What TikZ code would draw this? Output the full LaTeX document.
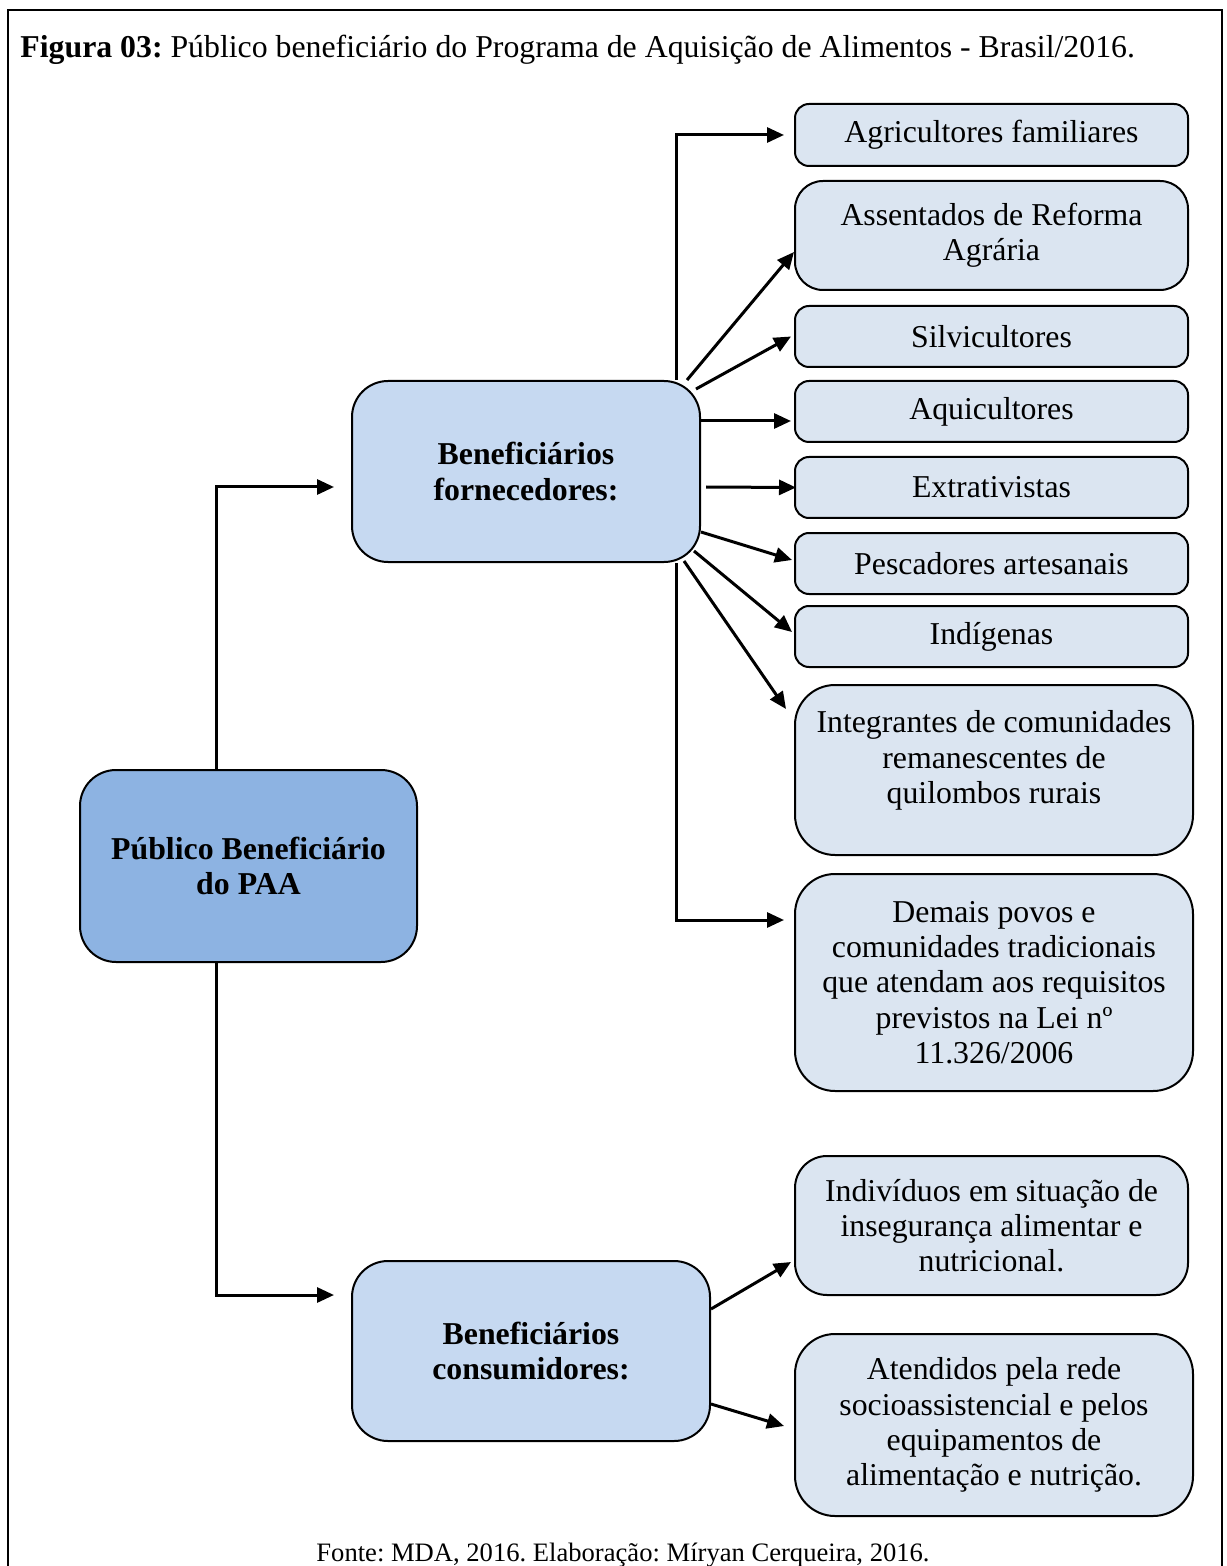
\documentclass[tikz,border=0pt]{standalone}
\usepackage{fontspec}
\setmainfont{Liberation Serif}
\usetikzlibrary{arrows.meta,calc}
\definecolor{rootblue}{RGB}{141,179,226}
\definecolor{midblue}{RGB}{198,217,241}
\definecolor{leafblue}{RGB}{219,229,241}
\frenchspacing

\begin{document}
\begin{tikzpicture}[x=0.5pt,y=-0.5pt,
  >={Triangle[length=8.5pt,width=7.5pt]},
  txt/.style={font=\fontsize{15.9}{17.6}\selectfont},
  main node/.style={txt,draw,line width=1pt,rounded corners=18pt,align=center,inner sep=0pt},
  leaf node/.style={txt,draw,line width=1pt,fill=leafblue,rounded corners=7pt,align=center,inner sep=0pt,minimum width=196.5pt},
  big leaf/.style={leaf node,rounded corners=20pt,minimum width=199pt},
  arr/.style={->,line width=1.5pt}]
\useasboundingbox (0,0) rectangle (1226,1566);

% frame and caption
\draw[line width=1.2pt] (8,1566) -- (8,10) -- (1222,10) -- (1222,1566);
\node[txt,anchor=base west,inner sep=0pt] (title) at (20,58)
  {\textbf{Figura 03:} Público beneficiário do Programa de Aquisição de Alimentos - Brasil/2016.};
\node[font=\fontsize{13.3}{15}\selectfont,anchor=base,inner sep=0pt] (fonte) at (623,1561)
  {Fonte: MDA, 2016. Elaboração: Míryan Cerqueira, 2016.};

% main boxes
\node[main node,fill=rootblue,minimum width=168.5pt,minimum height=96pt] (root) at (248.5,866)
  {\textbf{Público Beneficiário}\\\textbf{do PAA}};
\node[main node,fill=midblue,minimum width=174pt,minimum height=90.5pt] (forn) at (526,471.5)
  {\textbf{Beneficiários}\\\textbf{fornecedores:}};
\node[main node,fill=midblue,minimum width=179pt,minimum height=90pt] (cons) at (531,1351)
  {\textbf{Beneficiários}\\\textbf{consumidores:}};

% suppliers
\node[leaf node,minimum height=31pt] (agric) at (991.5,135) {Agricultores familiares};
\node[leaf node,rounded corners=14pt,minimum height=54.5pt] (assent) at (991.5,235.5) {Assentados de Reforma\\Agrária};
\node[leaf node,minimum height=30.5pt] (silvi) at (991.5,336.5) {Silvicultores};
\node[leaf node,minimum height=30.5pt] (aqui) at (991.5,411.5) {Aquicultores};
\node[leaf node,minimum height=30.5pt] (extra) at (991.5,487.5) {Extrativistas};
\node[leaf node,minimum height=30.5pt] (pesca) at (991.5,563.5) {Pescadores artesanais};
\node[leaf node,minimum height=30.5pt] (indig) at (991.5,636.5) {Indígenas};
\node[big leaf,minimum height=85pt] (integr) at (994,770)
  {Integrantes de comunidades\\remanescentes de\\quilombos rurais\\[-4.6pt]};
\node[big leaf,minimum height=108.5pt] (demais) at (994,982.5)
  {Demais povos e\\comunidades tradicionais\\que atendam aos requisitos\\previstos na Lei nº\\11.326/2006};

% consumers
\node[leaf node,rounded corners=16pt,minimum height=69.5pt] (indiv) at (991.5,1225.5)
  {Indivíduos em situação de\\insegurança alimentar e\\nutricional.};
\node[big leaf,minimum height=91pt] (atend) at (994,1425)
  {Atendidos pela rede\\socioassistencial e pelos\\equipamentos de\\alimentação e nutrição.};

% root links
\draw[arr] ($(root.north)+(-32.5,0)$) |- ($(forn.west)+(-17,15.5)$);
\draw[arr] ($(root.south)+(-32.5,0)$) |- ($(cons.west)+(-17,-56)$);

% supplier links
\draw[arr] ($(forn.north east)+(-25,0)$) |- ($(agric.west)+(-10,0)$);
\draw[arr] ($(forn.north east)+(-14,0)$) -- ($(assent.west)+(0,16.5)$);
\draw[arr] ($(forn.north east)+(-5,9)$) -- ($(silvi.west)+(-3,0)$);
\draw[arr] ($(forn.east)+(0,-50.5)$) -- ($(aqui.west)+(-3,9.5)$);
\draw[arr] ($(forn.east)+(5,15.5)$) -- ($(extra.west)+(2,0)$);
\draw[arr] ($(forn.east)+(0,60.5)$) -- ($(pesca.west)+(-2,-3.5)$);
\draw[arr] ($(forn.south east)+(-7,-12)$) -- ($(indig.west)+(-2,-4.5)$);
\draw[arr] ($(forn.south east)+(-17,-2)$) -- ($(integr.north west)+(-8,25)$);
\draw[arr] ($(forn.south east)+(-25,0)$) |- ($(demais.west)+(-10,-62.5)$);

% consumer links
\draw[arr] ($(cons.east)+(0,-42)$) -- ($(indiv.west)+(-3,36.5)$);
\draw[arr] ($(cons.east)+(0,53)$) -- ($(atend.west)+(-10,1)$);

\end{tikzpicture}
\end{document}
